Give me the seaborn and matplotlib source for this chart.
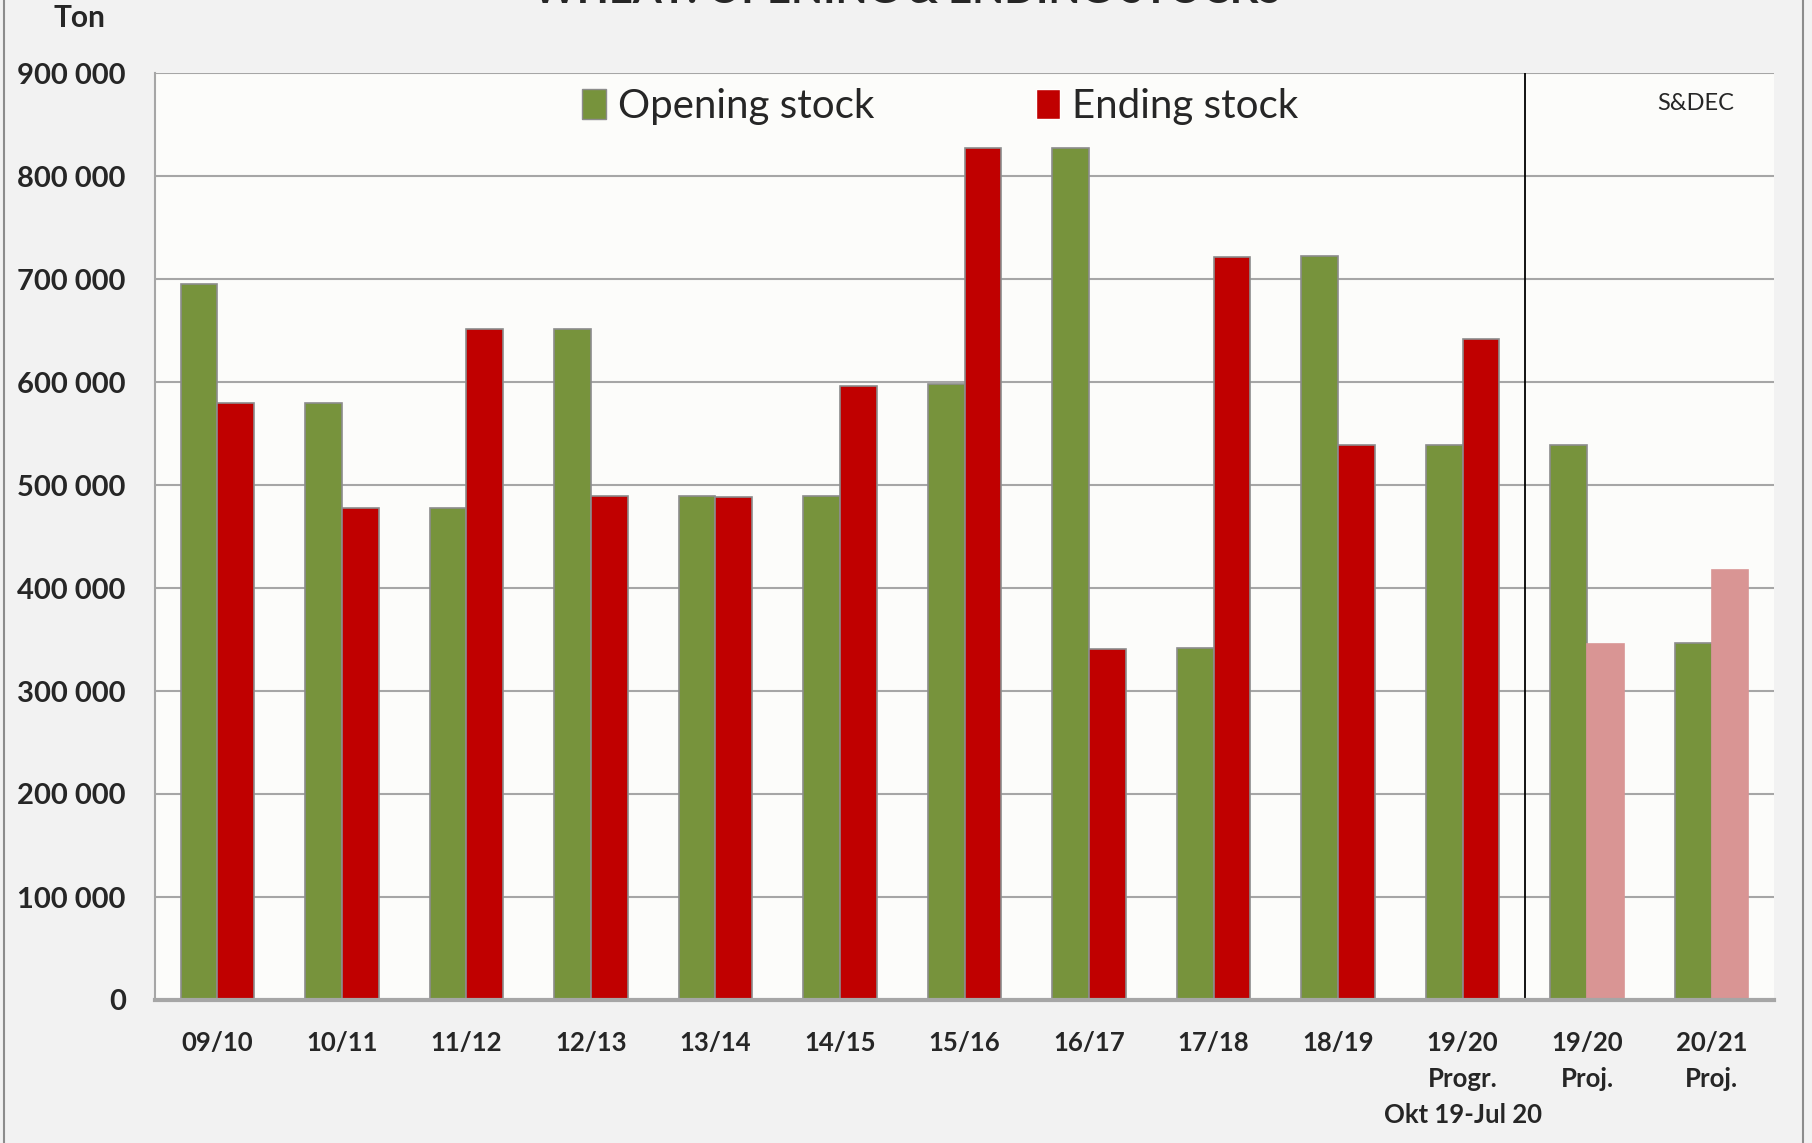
import pandas as pd
import matplotlib.pyplot as plt
import matplotlib.patches as mpatches
import seaborn as sns

seasons = ['09/10', '10/11', '11/12', '12/13', '13/14', '14/15', '15/16',
           '16/17', '17/18', '18/19', '19/20\nProgr.\nOkt 19-Jul 20',
           '19/20\nProj.', '20/21\nProj.']
opening = [695000, 580000, 478000, 651000, 489000, 489000, 598000,
           827000, 342000, 722000, 539000, 539000, 347000]
ending = [580000, 478000, 651000, 489000, 488000, 596000, 827000,
          341000, 721000, 539000, 642000, 346000, 417000]
yticks = list(range(0, 900001, 100000))
ytick_labels = ['0'] + ['{:,}'.format(v).replace(',', ' ') for v in yticks[1:]]

green = '#77933C'
red = '#C00000'
pink = '#D99594'

df = pd.DataFrame({
    'season': seasons * 2,
    'stock': opening + ending,
    'kind': ['Opening stock'] * len(seasons) + ['Ending stock'] * len(seasons),
})

sns.set_style('white')
plt.rcParams['font.family'] = ['Lato', 'DejaVu Sans']

fig = plt.figure(figsize=(18.12, 11.43), dpi=100, facecolor='#F2F2F2')
ax = fig.add_axes([155 / 1812, 1 - 1000 / 1143, (1774 - 155) / 1812, (1000 - 73) / 1143])
ax.set_facecolor('#FCFCFA')

sns.barplot(data=df, x='season', y='stock', hue='kind', ax=ax,
            palette=[green, red], width=0.59, saturation=1,
            edgecolor='#8C8C8C', linewidth=1.2, legend=False)

# projected ending stocks in lighter shade
for bar in list(ax.containers[1])[-2:]:
    bar.set_facecolor(pink)
    bar.set_edgecolor(pink)

ax.set_ylim(0, 900000)
ax.set_xlim(-0.5, len(seasons) - 0.5)
ax.set_yticks(yticks)
ax.set_yticklabels(ytick_labels, fontsize=21, fontweight='bold')
ax.tick_params(axis='y', length=0, pad=21)
ax.tick_params(axis='x', length=0, pad=22)
for lab in ax.get_xticklabels():
    lab.set_fontsize(18.5)
    lab.set_fontweight('bold')
    lab.set_linespacing(1.62)
ax.yaxis.grid(True, color='#A6A6A6', linewidth=1.5)
ax.set_axisbelow(True)
ax.set_xlabel('')
ax.set_ylabel('')
for side in ['top', 'right']:
    ax.spines[side].set_visible(False)
ax.spines['left'].set_color('#A6A6A6')
ax.spines['left'].set_linewidth(1.5)
ax.spines['bottom'].set_color('#A6A6A6')
ax.spines['bottom'].set_linewidth(3)

ax.axvline(10.5, color='black', linewidth=1.3)
ax.text(11.87, 870000, 'S&DEC', fontsize=17, ha='center', va='center')

handles = [mpatches.Patch(facecolor=green, edgecolor='#8C8C8C', label='Opening stock'),
           mpatches.Patch(facecolor=red, label='Ending stock')]
ax.legend(handles=handles, loc='center', bbox_to_anchor=(0.485, 0.964), ncol=2,
          frameon=False, fontsize=29, handlelength=0.6, handleheight=0.75,
          handletextpad=0.3, columnspacing=4.0)

fig.text(79 / 1812, 1 - 18 / 1143, 'Ton', fontsize=21.5, fontweight='bold',
         ha='center', va='center')
fig.text(907 / 1812, 1 - 10 / 1143, 'WHEAT: OPENING & ENDING STOCKS', fontsize=30,
         fontweight='bold', ha='center', va='bottom')

fig.add_artist(mpatches.Rectangle((4 / 1812, -0.01), 1799 / 1812, 1.02,
                                  transform=fig.transFigure, fill=False,
                                  edgecolor='#8C8C8C', linewidth=1.5))

fig.savefig('out.png', dpi=100, facecolor=fig.get_facecolor())
